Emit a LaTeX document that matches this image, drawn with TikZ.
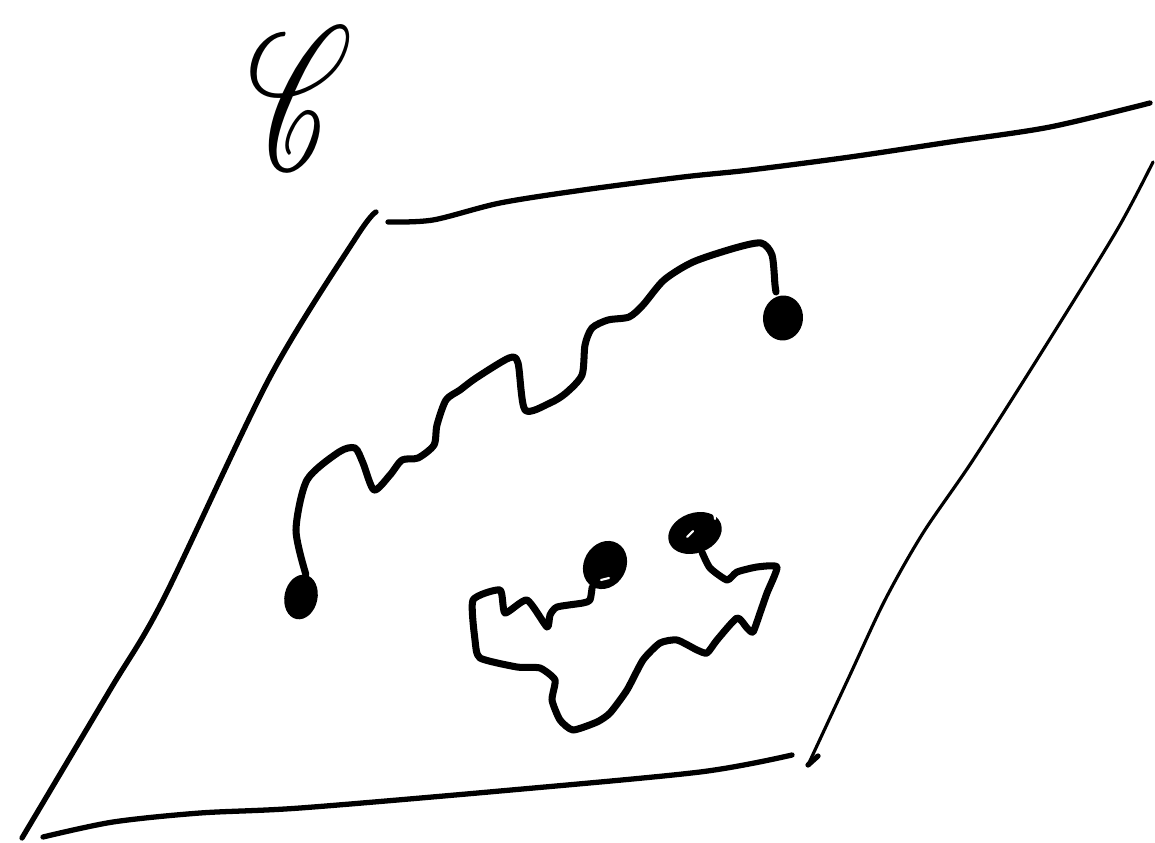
\documentclass[tikz,border=0pt]{standalone}
\usepackage{graphicx}
\usepackage{mathrsfs}
\usetikzlibrary{shapes.geometric}

\begin{document}
\begin{tikzpicture}[x=0.01cm, y=-0.01cm,
  rim/.style={line width=1.5pt, line cap=round, line join=round},
  walk/.style={line width=2pt, line cap=round, line join=round},
  blob/.style={ellipse, fill=black, inner sep=0pt}]
\useasboundingbox (0,0) rectangle (1155,843);
% the plane
\draw[rim] plot[smooth] coordinates {(376,212) (357,236) (270,377) (163,600) (110,690) (22,838)};
\draw[rim] plot[smooth] coordinates {(43,837) (113,822) (200,813) (300,808) (500,791) (700,772) (792,755)};
\draw[rim] plot[smooth] coordinates {(388,222) (433,220) (500,203) (583,190) (683,177) (750,170) (850,157) (950,142) (1050,127) (1150,103)};
\draw[rim, line width=0.9pt] plot[smooth] coordinates {(1153,162) (1117,230) (1043,350) (973,460) (923,533) (885,600) (849,677) (808,765)};
\draw[rim] (808,765) -- (818,756);
\node[inner sep=0pt] (calC) at (300,98) {\resizebox{1.05cm}{1.42cm}{$\mathscr{C}$}};
% the points
\node[blob, minimum width=0.33cm, minimum height=0.45cm, rotate=-12] (p1) at (301,597) {};
\node[blob, minimum width=0.40cm, minimum height=0.45cm, rotate=-5] (p2) at (783,318) {};
\node[blob, minimum width=0.42cm, minimum height=0.50cm, rotate=-30] (p3) at (605,565) {};
\node[blob, minimum width=0.55cm, minimum height=0.40cm, rotate=20] (p4) at (695,533) {};
\draw[white, line width=0.6pt, line cap=round] (601,580) -- (609,578);
\draw[white, line width=0.6pt, line cap=round] (687,537) -- (693,531);
\draw[white, line width=0.6pt, line cap=round] (715,519) arc (180:270:-4 and 7);
% the paths
\draw[walk] plot[smooth, tension=0.45] coordinates {(p1.north) (296,530) (307,480) (339,452) (355,448) (363,463) (374,490) (390,475) (402,460) (418,458) (434,445) (437,425) (446,400) (460,390) (476,378) (509,358) (518,363) (525,410) (550,403) (566,393) (582,375) (585,345) (592,328) (608,320) (629,317) (643,305) (664,280) (693,262) (735,248) (761,243) (772,255) (775,285) (776,292)};
\draw[walk] plot[smooth, tension=0.35] coordinates {(p3.south) (590,600) (583,603) (557,607) (550,615) (547,627) (527,600) (505,613) (500,590) (473,600) (475,640) (480,658) (517,667) (540,668) (555,680) (552,700) (560,720) (573,730) (597,722) (610,713) (627,690) (643,660) (660,643) (677,640) (697,650) (707,653) (717,640) (737,618) (747,628) (753,632) (760,613) (767,593) (777,567) (757,567) (737,572) (727,580) (710,568) (p4.south)};
\end{tikzpicture}
\end{document}
